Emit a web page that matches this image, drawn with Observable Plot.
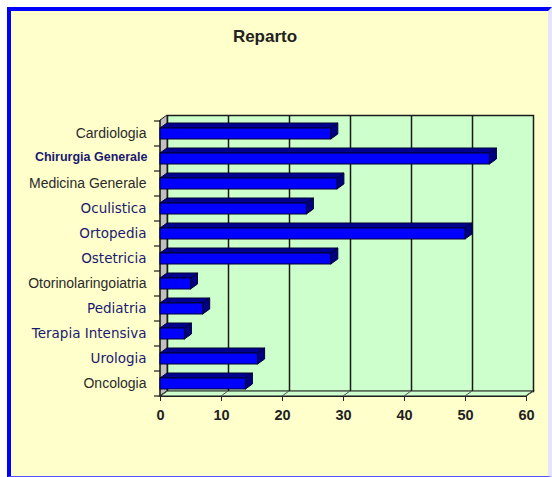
<!DOCTYPE html>
<html>
<head>
<meta charset="utf-8">
<script src="https://cdn.jsdelivr.net/npm/d3@7"></script>
<script src="https://cdn.jsdelivr.net/npm/@observablehq/plot@0.6"></script>
<style>
html, body { margin: 0; padding: 0; background: #ffffff; width: 552px; height: 477px; overflow: hidden; }
#panel { position: absolute; left: 7px; top: 7px; width: 537px; height: 465px; background: #ffffcc;
  border-left: 4px solid #0000ff; border-top: 4px solid #0000ff; border-right: 4px solid #e4e4fa; border-bottom: 1px solid #5050ff; }
#title { position: absolute; left: 0; top: 28px; width: 530px; text-align: center; font: bold 17px/18px "Liberation Sans", Arial, sans-serif; color: #222; }
#chart { position: absolute; left: 0; top: 0; }
</style>
</head>
<body>
<div id="panel"></div>
<div id="title"></div>
<div id="chart"></div>
<script>
const title = "Reparto";
const categories = ["Cardiologia", "Chirurgia Generale", "Medicina Generale", "Oculistica", "Ortopedia", "Ostetricia", "Otorinolaringoiatria", "Pediatria", "Terapia Intensiva", "Urologia", "Oncologia"];
const values = [28, 54, 29, 24, 50, 28, 5, 7, 4, 16, 14];
const xTicks = [0, 10, 20, 30, 40, 50, 60];

document.getElementById("title").textContent = title;

const data = categories.map((c, i) => ({reparto: c, valore: values[i]}));
const DX = 7, DY = -5, INSET = 7;
const darkLabels = new Set(["Cardiologia", "Medicina Generale", "Otorinolaringoiatria", "Oncologia"]);
const smallLabels = new Set(["Chirurgia Generale"]);

const chart = Plot.plot({
  width: 552, height: 477,
  marginLeft: 160, marginRight: 26, marginTop: 120, marginBottom: 81,
  style: {background: "transparent", fontFamily: "'Liberation Sans', Arial, sans-serif", fontSize: "14.5px", fontWeight: "bold", color: "#222"},
  x: {domain: [0, 60], ticks: xTicks, tickSize: 5, tickPadding: 8, line: true, label: null, tickFormat: d => String(d)},
  y: {domain: categories, axis: null, padding: 0},
  marks: [
    Plot.frame({fill: "#ccffcc", stroke: "#1a1a1a", strokeWidth: 1.5, dx: DX, dy: DY}),
    Plot.ruleX(xTicks.slice(1, -1), {stroke: "#1a1a1a", strokeWidth: 1.5, dx: DX, dy: DY}),
    Plot.barX(data, {x: "valore", y: "reparto", fill: "#0000ff", stroke: "#000033", strokeWidth: 1, insetTop: INSET, insetBottom: INSET}),
    Plot.text(data.filter(d => darkLabels.has(d.reparto)), {y: "reparto", text: "reparto", frameAnchor: "left", dx: -14, textAnchor: "end",
      fontFamily: "'Liberation Sans', Arial, sans-serif", fontSize: 14, fontWeight: "normal", fill: "#2a2a2a"}),
    Plot.text(data.filter(d => !darkLabels.has(d.reparto) && !smallLabels.has(d.reparto)), {y: "reparto", text: "reparto", frameAnchor: "left", dx: -14, textAnchor: "end",
      fontFamily: "'DejaVu Sans', sans-serif", fontSize: 13.5, fontWeight: "normal", fill: "#1a1a70"}),
    Plot.text(data.filter(d => smallLabels.has(d.reparto)), {y: "reparto", text: "reparto", frameAnchor: "left", dx: -13, dy: -2, textAnchor: "end",
      fontFamily: "'Liberation Sans', Arial, sans-serif", fontSize: 12.5, fontWeight: "bold", fill: "#1a1a70"})
  ]
});
document.getElementById("chart").appendChild(chart);

// 3D decorations computed from Plot's own scales
const xs = chart.scale("x"), ys = chart.scale("y");
const X = v => xs.apply(v);
const bw = ys.bandwidth;
const [yTop, yBot] = ys.range;
const svg = d3.select(chart);
let g = svg.select("g[aria-label='bar']").empty() ? svg.append("g") : svg.insert("g", "g[aria-label='bar']");
const poly = pts => pts.map(p => p.join(",")).join(" ");

// left wall
g.append("polygon").attr("points", poly([[X(0), yTop], [X(0) + DX, yTop + DY], [X(0) + DX, yBot + DY], [X(0), yBot]]))
  .attr("fill", "#c0c0c0").attr("stroke", "#1a1a1a").attr("stroke-width", 1);
// floor
g.append("polygon").attr("points", poly([[X(0), yBot], [X(60), yBot], [X(60) + DX, yBot + DY], [X(0) + DX, yBot + DY]]))
  .attr("fill", "#ccffcc").attr("stroke", "#1a1a1a").attr("stroke-width", 1.2);
xTicks.forEach(t => {
  g.append("line").attr("x1", X(t)).attr("y1", yBot).attr("x2", X(t) + DX).attr("y2", yBot + DY)
    .attr("stroke", "#555").attr("stroke-width", 1);
});
// category ticks on the left
categories.map(c => ys.apply(c)).concat([yBot]).forEach(yy => {
  g.append("line").attr("x1", X(0) - 6).attr("x2", X(0)).attr("y1", yy).attr("y2", yy)
    .attr("stroke", "#1a1a1a").attr("stroke-width", 1.2);
});
g.append("line").attr("x1", X(0)).attr("x2", X(0)).attr("y1", yTop).attr("y2", yBot)
  .attr("stroke", "#1a1a1a").attr("stroke-width", 1.2);
// bar top and side faces
data.forEach(d => {
  const yt = ys.apply(d.reparto) + INSET, yb = ys.apply(d.reparto) + bw - INSET;
  const xa = X(0), xb = X(d.valore);
  g.append("polygon").attr("points", poly([[xa, yt], [xb, yt], [xb + DX, yt + DY], [xa + DX, yt + DY]]))
    .attr("fill", "#000090").attr("stroke", "#000033").attr("stroke-width", 1);
  g.append("polygon").attr("points", poly([[xb, yt], [xb + DX, yt + DY], [xb + DX, yb + DY], [xb, yb]]))
    .attr("fill", "#000080").attr("stroke", "#000033").attr("stroke-width", 1);
});
</script>
</body>
</html>
